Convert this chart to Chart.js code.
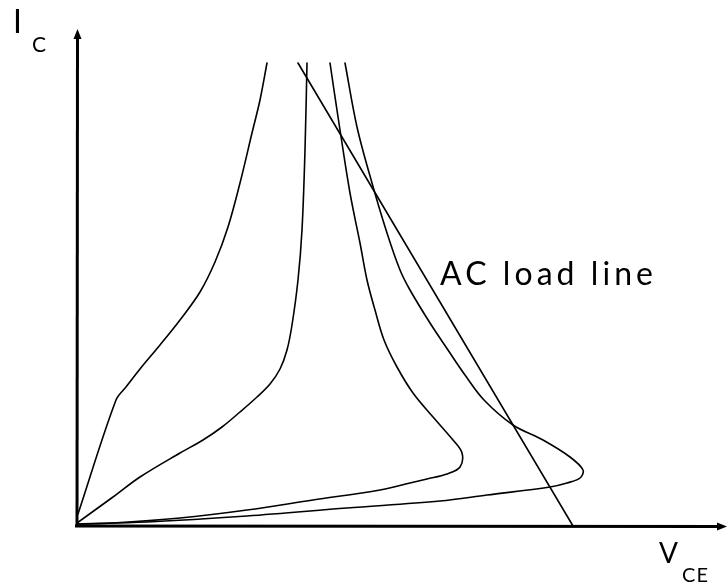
<!DOCTYPE html>
<html>
<head>
<meta charset="utf-8">
<script src="https://cdn.jsdelivr.net/npm/chart.js@4.4.1/dist/chart.umd.min.js"></script>
<style>
  html, body { margin: 0; padding: 0; background: #fff; }
  #wrap { width: 728px; height: 588px; position: relative; }
</style>
</head>
<body>
<div id="wrap"><canvas id="c"></canvas></div>
<script>
// Transistor output characteristics (arbitrary units): V_CE on x, I_C on y.
// Each curve is listed as [V_CE, I_C] pairs.
const curveA = [
  [0.1, 1.2], [3.9, 12.6], [4.9, 13.9], [6.3, 15.7], [8.3, 18.1], [10.3, 20.6],
  [12.3, 23.4], [13.8, 26.4], [15.1, 29.9], [16.3, 34.3], [17.5, 39.3],
  [18.3, 42.6], [19.0, 46.3]
];
const curveB = [
  [0, 0.3], [3.6, 2.9], [6.3, 4.9], [10.3, 7.3], [12.6, 8.6], [14.5, 9.9],
  [16.3, 11.4], [18.0, 12.9], [19.3, 14.2], [20.3, 15.7], [21.0, 17.6],
  [21.5, 20.1], [22.1, 24.6], [22.5, 29.6], [22.8, 37.6], [23.0, 46.3]
];
const curveC = [
  [0, 0.2], [3.6, 0.3], [10.3, 0.8], [17.0, 1.6], [23.6, 2.6], [30.3, 3.6],
  [33.3, 4.3], [35.0, 4.7], [37.0, 5.2], [38.3, 5.9], [38.5, 7.3], [37.6, 8.6],
  [35.6, 10.9], [33.6, 13.3], [32.0, 15.9], [30.7, 18.6], [29.8, 21.6],
  [29.0, 24.6], [28.3, 28.3], [27.3, 33.3], [26.3, 39.6], [25.3, 46.3]
];
const curveD = [
  [0, 0.2], [7.0, 0.4], [17.0, 1.0], [27.0, 1.8], [36.3, 2.5], [41.0, 3.1],
  [47.3, 3.9], [49.0, 4.3], [50.3, 4.8], [50.6, 5.6], [49.3, 6.9], [46.6, 8.6],
  [43.6, 10.1], [40.7, 12.6], [38.8, 15.1], [37.1, 17.6], [35.3, 20.3],
  [33.3, 23.6], [32.3, 25.6], [31.0, 29.3], [29.5, 34.3], [28.0, 39.9],
  [26.8, 46.3]
];
// AC load line end points
const loadLine = [[22.1, 46.3], [49.6, 0]];

// Axis extents
const xMax = 65;
const yMax = 49.7;

// Text labels
const loadLabel = 'AC load line';
const loadLabelAt = [36.3, 24.1];
const yTitle = ['I', 'C'];
const xTitle = ['V', 'CE'];

const toPts = arr => arr.map(([x, y]) => ({ x, y }));

const lineDs = (arr, tension) => ({
  data: toPts(arr),
  showLine: true,
  borderColor: '#000',
  borderWidth: 1.6,
  pointRadius: 0,
  tension: tension,
  fill: false
});

const FONT = 'Lato, "Liberation Sans", sans-serif';

// draw text spread so that it spans the given width
function spreadText(ctx, txt, px, py, width) {
  ctx.letterSpacing = '0px';
  const w = ctx.measureText(txt).width;
  const sp = (width - w) / (txt.length - 1);
  ctx.letterSpacing = sp.toFixed(2) + 'px';
  ctx.fillText(txt, px, py);
  ctx.letterSpacing = '0px';
}

const decor = {
  id: 'decor',
  afterDraw(chart) {
    const { ctx, scales: { x, y } } = chart;
    const x0 = x.getPixelForValue(0);
    const y0 = y.getPixelForValue(0);
    const xEnd = x.getPixelForValue(xMax);
    const yEnd = y.getPixelForValue(yMax);
    ctx.save();
    ctx.strokeStyle = '#000';
    ctx.fillStyle = '#000';
    ctx.lineWidth = 3;
    ctx.lineCap = 'butt';
    // y axis with arrow
    ctx.beginPath();
    ctx.moveTo(x0, y0 + 1);
    ctx.lineTo(x0 + 0.5, yEnd + 8);
    ctx.stroke();
    ctx.beginPath();
    ctx.moveTo(x0 + 0.5, yEnd);
    ctx.lineTo(x0 - 3.5, yEnd + 10);
    ctx.lineTo(x0 + 4.5, yEnd + 10);
    ctx.closePath();
    ctx.fill();
    // x axis with arrow
    ctx.beginPath();
    ctx.moveTo(x0 - 2, y0);
    ctx.lineTo(xEnd - 8, y0 + 0.5);
    ctx.stroke();
    ctx.beginPath();
    ctx.moveTo(xEnd, y0 + 0.5);
    ctx.lineTo(xEnd - 10, y0 - 3.5);
    ctx.lineTo(xEnd - 10, y0 + 4.5);
    ctx.closePath();
    ctx.fill();

    // Labels
    ctx.textBaseline = 'alphabetic';
    ctx.textAlign = 'left';
    ctx.font = '400 32px ' + FONT;
    spreadText(ctx, loadLabel, x.getPixelForValue(loadLabelAt[0]), y.getPixelForValue(loadLabelAt[1]), 213);

    ctx.font = '400 32px ' + FONT;
    ctx.fillText(yTitle[0], 13, 33);
    ctx.font = '400 21px ' + FONT;
    ctx.fillText(yTitle[1], 32, 52);

    ctx.font = '400 28px ' + FONT;
    ctx.fillText(xTitle[0], 659, 563);
    ctx.font = '400 20px ' + FONT;
    spreadText(ctx, xTitle[1], 682, 582, 26);
    ctx.restore();
  }
};

new Chart(document.getElementById('c'), {
  type: 'scatter',
  data: {
    datasets: [
      lineDs(curveA, 0.35),
      lineDs(curveB, 0.35),
      lineDs(curveC, 0.35),
      lineDs(curveD, 0.35),
      lineDs(loadLine, 0)
    ]
  },
  options: {
    responsive: true,
    maintainAspectRatio: false,
    animation: false,
    layout: { padding: { left: 77, right: 1, top: 29, bottom: 62 } },
    plugins: { legend: { display: false }, tooltip: { enabled: false } },
    scales: {
      x: { type: 'linear', min: 0, max: xMax, display: false },
      y: { type: 'linear', min: 0, max: yMax, display: false }
    },
    elements: { line: { borderCapStyle: 'round', borderJoinStyle: 'round' } }
  },
  plugins: [decor]
});
</script>
</body>
</html>
